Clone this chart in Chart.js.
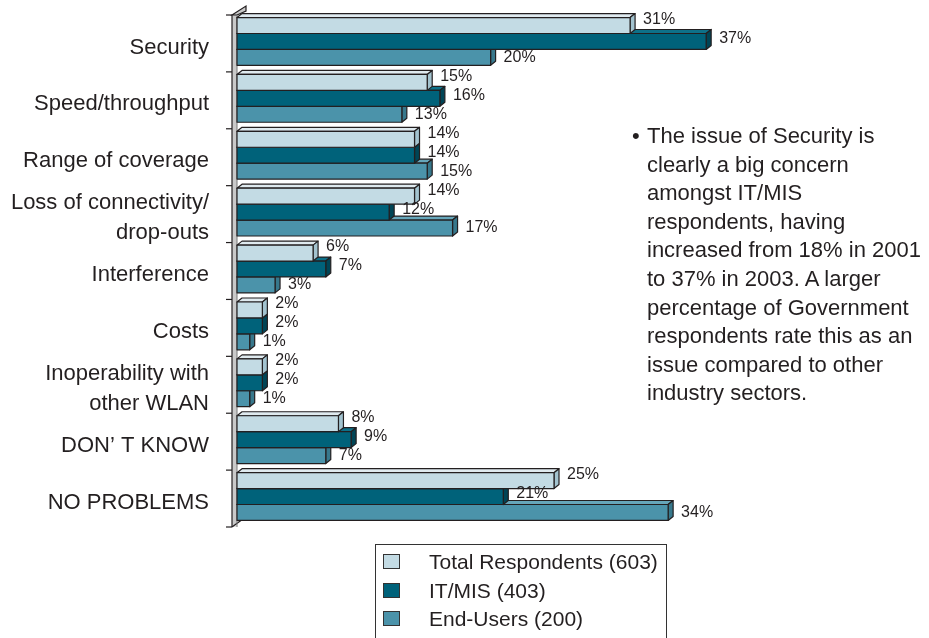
<!DOCTYPE html>
<html>
<head>
<meta charset="utf-8">
<script src="https://cdn.jsdelivr.net/npm/chart.js@4/dist/chart.umd.min.js"></script>
<style>
  html, body { margin: 0; padding: 0; background: #fff; }
  body { width: 929px; height: 638px; position: relative; overflow: hidden;
         font-family: "Liberation Sans", Arial, sans-serif; color: #231f20; }
  #chart { position: absolute; left: 0; top: 0; }
  #note { position: absolute; left: 632px; top: 122px; width: 297px;
          font-size: 22px; line-height: 28.6px; }
  #note .dot { position: absolute; left: 0; top: 0; }
  #note .txt { position: absolute; left: 15px; top: 0; white-space: nowrap; }
  #legend { position: absolute; left: 375px; top: 544px; width: 292px; height: 110px;
            border: 1px solid #333; box-sizing: border-box; }
  #legend .row { position: absolute; left: 7px; height: 20px; font-size: 21px; line-height: 20px; white-space: nowrap; }
  #legend .sw { position: absolute; left: 0; top: 3px; width: 17px; height: 15px;
                border: 1px solid #333; box-sizing: border-box; }
  #legend .lb { position: absolute; left: 46px; top: 1px; }
</style>
</head>
<body>
<canvas id="chart" width="929" height="638"></canvas>
<div id="note">
  <span class="dot">•</span>
  <div class="txt">The issue of Security is<br>clearly a big concern<br>amongst IT/MIS<br>respondents, having<br>increased from 18% in 2001<br>to 37% in 2003. A larger<br>percentage of Government<br>respondents rate this as an<br>issue compared to other<br>industry sectors.</div>
</div>
<div id="legend"></div>
<script>
// survey answers, in percent
const categories = [
    'Security',
    'Speed/throughput',
    'Range of coverage',
    ['Loss of connectivity/', 'drop-outs'],
    'Interference',
    'Costs',
    ['Inoperability with', 'other WLAN'],
    'DON\u2019 T KNOW',
    'NO PROBLEMS'
];
const seriesNames = ['Total Respondents (603)', 'IT/MIS (403)', 'End-Users (200)'];
const totalRespondents = [31, 15, 14, 14, 6, 2, 2, 8, 25];
const itMis = [37, 16, 14, 12, 7, 2, 2, 9, 21];
const endUsers = [20, 13, 15, 17, 3, 1, 1, 7, 34];

// front / top / side colours for each series
const faces = [
    { front: '#c3dbe4', top: '#dfeaef', side: '#a3c3cf' },
    { front: '#00627a', top: '#0e7189', side: '#004556' },
    { front: '#4b93aa', top: '#66a6ba', side: '#37788c' }
];
const DX = 5, DY = -4;           // bar depth
const labelShift = [-6, -3, 0];  // value labels are nudged so they don't collide
const FONT = '"Liberation Sans", Arial, sans-serif';

const bars3d = {
    id: 'bars3d',
    beforeDatasetsDraw(chart) {
        const ctx = chart.ctx;
        const area = chart.chartArea;
        const yScale = chart.scales.y;
        const step = yScale.getPixelForValue(1) - yScale.getPixelForValue(0);
        const top = yScale.getPixelForValue(0) - step / 2;
        const bottom = yScale.getPixelForValue(categories.length - 1) + step / 2;
        const wallL = area.left - 5;

        ctx.save();
        ctx.strokeStyle = '#231f20';
        ctx.lineWidth = 1.2;

        // side wall of the plot
        ctx.fillStyle = '#c9c9c9';
        ctx.fillRect(wallL, top, 5, bottom - top);
        ctx.beginPath();
        ctx.moveTo(wallL, top);
        ctx.lineTo(wallL + 14, top - 9);
        ctx.lineTo(wallL + 14, top - 4);
        ctx.lineTo(area.left, top);
        ctx.closePath();
        ctx.fill();
        ctx.stroke();
        ctx.fillStyle = '#e2e2e2';
        ctx.beginPath();
        ctx.moveTo(wallL, bottom);
        ctx.lineTo(wallL + 11, bottom - 8);
        ctx.lineTo(area.left, bottom - 8);
        ctx.lineTo(area.left, bottom);
        ctx.closePath();
        ctx.fill();
        ctx.beginPath();
        ctx.moveTo(wallL, bottom);
        ctx.lineTo(wallL + 11, bottom - 8);
        ctx.stroke();
        ctx.beginPath();
        ctx.moveTo(wallL, top);
        ctx.lineTo(wallL, bottom);
        ctx.stroke();
        ctx.strokeStyle = '#777';
        ctx.lineWidth = 1;
        ctx.beginPath();
        ctx.moveTo(area.left, top);
        ctx.lineTo(area.left, bottom);
        ctx.stroke();

        // category tick marks
        ctx.strokeStyle = '#231f20';
        ctx.lineWidth = 1.2;
        for (let k = 0; k <= categories.length; k++) {
            const ty = top + k * step;
            ctx.beginPath();
            ctx.moveTo(wallL - 6, ty);
            ctx.lineTo(wallL, ty);
            ctx.stroke();
        }

        // bars: bottom category first, and within a category bottom bar first
        const metas = [0, 1, 2].map(i => chart.getDatasetMeta(i));
        for (let c = categories.length - 1; c >= 0; c--) {
            for (let d = 2; d >= 0; d--) {
                const el = metas[d].data[c];
                const p = el.getProps(['x', 'y', 'base', 'height'], true);
                const x0 = p.base, x1 = p.x;
                const y0 = p.y - p.height / 2 - 2, y1 = p.y + p.height / 2 - 2;
                const f = faces[d];
                ctx.lineJoin = 'round';
                // top face
                ctx.fillStyle = f.top;
                ctx.beginPath();
                ctx.moveTo(x0, y0);
                ctx.lineTo(x0 + DX, y0 + DY);
                ctx.lineTo(x1 + DX, y0 + DY);
                ctx.lineTo(x1, y0);
                ctx.closePath();
                ctx.fill();
                ctx.stroke();
                // side face
                ctx.fillStyle = f.side;
                ctx.beginPath();
                ctx.moveTo(x1, y0);
                ctx.lineTo(x1 + DX, y0 + DY);
                ctx.lineTo(x1 + DX, y1 + DY);
                ctx.lineTo(x1, y1);
                ctx.closePath();
                ctx.fill();
                ctx.stroke();
                // front face
                ctx.fillStyle = f.front;
                ctx.fillRect(x0, y0, x1 - x0, y1 - y0);
                ctx.strokeRect(x0, y0, x1 - x0, y1 - y0);
            }
        }

        // value labels
        ctx.fillStyle = '#231f20';
        ctx.font = '16px ' + FONT;
        ctx.textAlign = 'left';
        ctx.textBaseline = 'middle';
        metas.forEach((meta, d) => {
            meta.data.forEach((el, c) => {
                const p = el.getProps(['x', 'y'], true);
                const v = chart.data.datasets[d].data[c];
                ctx.fillText(v + '%', p.x + DX + 8, p.y - 2 + labelShift[d]);
            });
        });
        ctx.restore();
        return false;
    }
};

const ctx = document.getElementById('chart').getContext('2d');
const chart = new Chart(ctx, {
    type: 'bar',
    data: {
        labels: categories,
        datasets: [
            { label: seriesNames[0], data: totalRespondents, backgroundColor: faces[0].front },
            { label: seriesNames[1], data: itMis, backgroundColor: faces[1].front },
            { label: seriesNames[2], data: endUsers, backgroundColor: faces[2].front }
        ]
    },
    options: {
        indexAxis: 'y',
        responsive: false,
        animation: false,
        layout: { padding: { top: 15, bottom: 111, right: 58, left: 0 } },
        datasets: { bar: { categoryPercentage: 0.84, barPercentage: 1.0 } },
        plugins: {
            legend: { display: false },
            tooltip: { enabled: false }
        },
        scales: {
            x: { min: 0, max: 50, display: false },
            y: {
                grid: { display: false, drawTicks: false },
                border: { display: false },
                ticks: {
                    color: '#231f20',
                    padding: 28,
                    labelOffset: 4,
                    autoSkip: false,
                    font: { family: FONT, size: 22, lineHeight: 1.35 }
                },
                afterFit(scale) {
                    scale.width = 237;
                    scale.paddingTop = 0;
                    scale.paddingBottom = 0;
                }
            }
        }
    },
    plugins: [bars3d]
});

// legend box
const legend = document.getElementById('legend');
seriesNames.forEach((name, i) => {
    const row = document.createElement('div');
    row.className = 'row';
    row.style.top = (6 + i * 28.6) + 'px';
    row.innerHTML = '<span class="sw" style="background:' + faces[i].front + '"></span>' +
        '<span class="lb">' + name + '</span>';
    legend.appendChild(row);
});
</script>
</body>
</html>
